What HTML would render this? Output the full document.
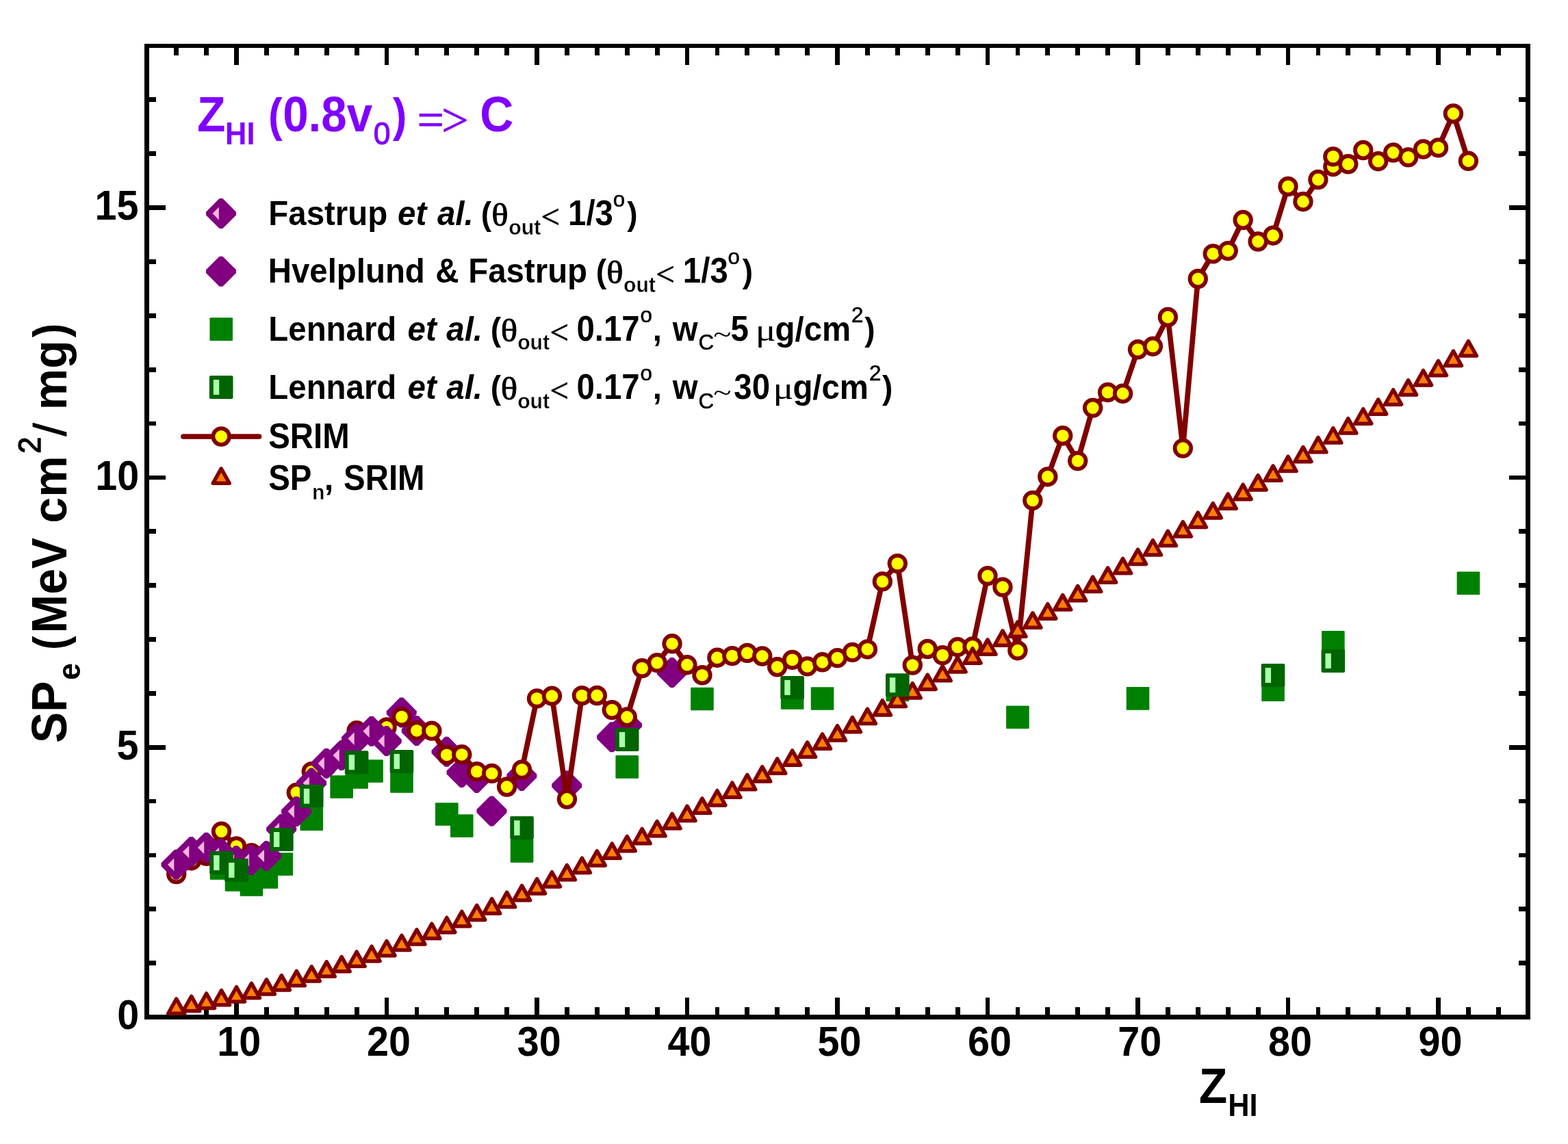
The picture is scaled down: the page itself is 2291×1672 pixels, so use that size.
<!DOCTYPE html>
<html><head><meta charset="utf-8"><title>SPe vs ZHI</title>
<style>html,body{margin:0;padding:0;background:#fff}svg{display:block}text{white-space:pre}</style></head>
<body><svg width="2291" height="1672" viewBox="0 0 2291 1672">
<rect width="2291" height="1672" fill="#fff"/>
<g shape-rendering="crispEdges"><rect x="214.5" y="67.0" width="2018.0" height="1419.5" fill="none" stroke="#000" stroke-width="6.8"/><path d="M257.70 67.0v14M257.70 1486.5v-14.9M301.60 67.0v14M301.60 1486.5v-14.9M345.50 67.0v28M345.50 1486.5v-28.9M389.40 67.0v14M389.40 1486.5v-14.9M433.30 67.0v14M433.30 1486.5v-14.9M477.20 67.0v14M477.20 1486.5v-14.9M521.10 67.0v14M521.10 1486.5v-14.9M565.00 67.0v28M565.00 1486.5v-28.9M608.90 67.0v14M608.90 1486.5v-14.9M652.80 67.0v14M652.80 1486.5v-14.9M696.70 67.0v14M696.70 1486.5v-14.9M740.60 67.0v14M740.60 1486.5v-14.9M784.50 67.0v28M784.50 1486.5v-28.9M828.40 67.0v14M828.40 1486.5v-14.9M872.30 67.0v14M872.30 1486.5v-14.9M916.20 67.0v14M916.20 1486.5v-14.9M960.10 67.0v14M960.10 1486.5v-14.9M1004.00 67.0v28M1004.00 1486.5v-28.9M1047.90 67.0v14M1047.90 1486.5v-14.9M1091.80 67.0v14M1091.80 1486.5v-14.9M1135.70 67.0v14M1135.70 1486.5v-14.9M1179.60 67.0v14M1179.60 1486.5v-14.9M1223.50 67.0v28M1223.50 1486.5v-28.9M1267.40 67.0v14M1267.40 1486.5v-14.9M1311.30 67.0v14M1311.30 1486.5v-14.9M1355.20 67.0v14M1355.20 1486.5v-14.9M1399.10 67.0v14M1399.10 1486.5v-14.9M1443.00 67.0v28M1443.00 1486.5v-28.9M1486.90 67.0v14M1486.90 1486.5v-14.9M1530.80 67.0v14M1530.80 1486.5v-14.9M1574.70 67.0v14M1574.70 1486.5v-14.9M1618.60 67.0v14M1618.60 1486.5v-14.9M1662.50 67.0v28M1662.50 1486.5v-28.9M1706.40 67.0v14M1706.40 1486.5v-14.9M1750.30 67.0v14M1750.30 1486.5v-14.9M1794.20 67.0v14M1794.20 1486.5v-14.9M1838.10 67.0v14M1838.10 1486.5v-14.9M1882.00 67.0v28M1882.00 1486.5v-28.9M1925.90 67.0v14M1925.90 1486.5v-14.9M1969.80 67.0v14M1969.80 1486.5v-14.9M2013.70 67.0v14M2013.70 1486.5v-14.9M2057.60 67.0v14M2057.60 1486.5v-14.9M2101.50 67.0v28M2101.50 1486.5v-28.9M2145.40 67.0v14M2145.40 1486.5v-14.9M2189.30 67.0v14M2189.30 1486.5v-14.9M214.5 1407.64h13.5M2232.5 1407.64h-13.5M214.5 1328.78h13.5M2232.5 1328.78h-13.5M214.5 1249.92h13.5M2232.5 1249.92h-13.5M214.5 1171.06h13.5M2232.5 1171.06h-13.5M214.5 1092.20h27.5M2232.5 1092.20h-27.5M214.5 1013.34h13.5M2232.5 1013.34h-13.5M214.5 934.48h13.5M2232.5 934.48h-13.5M214.5 855.62h13.5M2232.5 855.62h-13.5M214.5 776.76h13.5M2232.5 776.76h-13.5M214.5 697.90h27.5M2232.5 697.90h-27.5M214.5 619.04h13.5M2232.5 619.04h-13.5M214.5 540.18h13.5M2232.5 540.18h-13.5M214.5 461.32h13.5M2232.5 461.32h-13.5M214.5 382.46h13.5M2232.5 382.46h-13.5M214.5 303.60h27.5M2232.5 303.60h-27.5M214.5 224.74h13.5M2232.5 224.74h-13.5M214.5 145.88h13.5M2232.5 145.88h-13.5" stroke="#000" stroke-width="6.8" fill="none"/></g>
<g><polygon points="584.35,1019.60 589.15,1019.60 608.75,1039.20 608.75,1044.00 589.15,1063.60 584.35,1063.60 564.75,1044.00 564.75,1039.20" fill="#800080"/><polygon points="606.30,1046.00 611.10,1046.00 630.70,1065.60 630.70,1070.40 611.10,1090.00 606.30,1090.00 586.70,1070.40 586.70,1065.60" fill="#800080"/><polygon points="650.20,1076.80 655.00,1076.80 674.60,1096.40 674.60,1101.20 655.00,1120.80 650.20,1120.80 630.60,1101.20 630.60,1096.40" fill="#800080"/><polygon points="672.15,1107.00 676.95,1107.00 696.55,1126.60 696.55,1131.40 676.95,1151.00 672.15,1151.00 652.55,1131.40 652.55,1126.60" fill="#800080"/><polygon points="694.10,1114.90 698.90,1114.90 718.50,1134.50 718.50,1139.30 698.90,1158.90 694.10,1158.90 674.50,1139.30 674.50,1134.50" fill="#800080"/><polygon points="716.05,1163.40 720.85,1163.40 740.45,1183.00 740.45,1187.80 720.85,1207.40 716.05,1207.40 696.45,1187.80 696.45,1183.00" fill="#800080"/><polygon points="759.95,1112.00 764.75,1112.00 784.35,1131.60 784.35,1136.40 764.75,1156.00 759.95,1156.00 740.35,1136.40 740.35,1131.60" fill="#800080"/><polygon points="825.80,1126.20 830.60,1126.20 850.20,1145.80 850.20,1150.60 830.60,1170.20 825.80,1170.20 806.20,1150.60 806.20,1145.80" fill="#800080"/><polygon points="891.65,1055.30 896.45,1055.30 916.05,1074.90 916.05,1079.70 896.45,1099.30 891.65,1099.30 872.05,1079.70 872.05,1074.90" fill="#800080"/><polygon points="913.60,1037.80 918.40,1037.80 938.00,1057.40 938.00,1062.20 918.40,1081.80 913.60,1081.80 894.00,1062.20 894.00,1057.40" fill="#800080"/><polygon points="979.45,961.10 984.25,961.10 1003.85,980.70 1003.85,985.50 984.25,1005.10 979.45,1005.10 959.85,985.50 959.85,980.70" fill="#800080"/><polyline points="257.70,1277.50 279.65,1257.70 301.60,1251.00 323.55,1215.10 345.50,1236.90 367.45,1246.70 389.40,1251.00 411.35,1211.80 433.30,1158.40 455.25,1127.60 477.20,1120.00 499.15,1104.00 521.10,1067.80 543.05,1068.80 565.00,1063.00 586.95,1047.60 608.90,1067.80 630.85,1068.10 652.80,1103.30 674.75,1102.80 696.70,1127.60 718.65,1130.40 740.60,1150.00 762.55,1124.90 784.50,1020.90 806.45,1017.20 828.40,1168.00 850.35,1016.60 872.30,1016.50 894.25,1037.60 916.20,1048.00 938.15,976.60 960.10,968.60 982.05,940.80 1004.00,971.70 1025.95,986.80 1047.90,961.20 1069.85,958.60 1091.80,954.40 1113.75,959.00 1135.70,974.80 1157.65,964.40 1179.60,973.90 1201.55,967.80 1223.50,961.60 1245.45,953.40 1267.40,948.90 1289.35,849.90 1311.30,823.60 1333.25,972.10 1355.20,948.50 1377.15,957.60 1399.10,945.60 1421.05,944.90 1443.00,841.70 1464.95,858.10 1486.90,950.70 1508.85,731.40 1530.80,696.70 1552.75,636.80 1574.70,673.60 1596.65,596.10 1618.60,573.40 1640.55,575.20 1662.50,510.80 1684.45,506.20 1706.40,463.50 1728.35,655.10 1750.30,407.50 1772.25,370.90 1794.20,366.60 1816.15,321.50 1838.10,353.00 1860.05,344.20 1882.00,272.50 1903.95,294.70 1925.90,262.50 1947.85,243.50 1947.85,228.90 1969.80,239.80 1991.75,219.50 2013.70,235.70 2035.65,223.00 2057.60,229.90 2079.55,218.00 2101.50,215.90 2123.45,166.00 2145.40,235.30" fill="none" stroke="#800000" stroke-width="7.7" stroke-linejoin="round" stroke-linecap="round"/><circle cx="257.70" cy="1277.50" r="11.8" fill="#ffff00" stroke="#800000" stroke-width="5.8"/><circle cx="279.65" cy="1257.70" r="11.8" fill="#ffff00" stroke="#800000" stroke-width="5.8"/><circle cx="301.60" cy="1251.00" r="11.8" fill="#ffff00" stroke="#800000" stroke-width="5.8"/><circle cx="323.55" cy="1215.10" r="11.8" fill="#ffff00" stroke="#800000" stroke-width="5.8"/><circle cx="345.50" cy="1236.90" r="11.8" fill="#ffff00" stroke="#800000" stroke-width="5.8"/><circle cx="367.45" cy="1246.70" r="11.8" fill="#ffff00" stroke="#800000" stroke-width="5.8"/><circle cx="389.40" cy="1251.00" r="11.8" fill="#ffff00" stroke="#800000" stroke-width="5.8"/><circle cx="411.35" cy="1211.80" r="11.8" fill="#ffff00" stroke="#800000" stroke-width="5.8"/><circle cx="433.30" cy="1158.40" r="11.8" fill="#ffff00" stroke="#800000" stroke-width="5.8"/><circle cx="455.25" cy="1127.60" r="11.8" fill="#ffff00" stroke="#800000" stroke-width="5.8"/><circle cx="477.20" cy="1120.00" r="11.8" fill="#ffff00" stroke="#800000" stroke-width="5.8"/><circle cx="499.15" cy="1104.00" r="11.8" fill="#ffff00" stroke="#800000" stroke-width="5.8"/><circle cx="521.10" cy="1067.80" r="11.8" fill="#ffff00" stroke="#800000" stroke-width="5.8"/><circle cx="543.05" cy="1068.80" r="11.8" fill="#ffff00" stroke="#800000" stroke-width="5.8"/><circle cx="565.00" cy="1063.00" r="11.8" fill="#ffff00" stroke="#800000" stroke-width="5.8"/><circle cx="586.95" cy="1047.60" r="11.8" fill="#ffff00" stroke="#800000" stroke-width="5.8"/><circle cx="608.90" cy="1067.80" r="11.8" fill="#ffff00" stroke="#800000" stroke-width="5.8"/><circle cx="630.85" cy="1068.10" r="11.8" fill="#ffff00" stroke="#800000" stroke-width="5.8"/><circle cx="652.80" cy="1103.30" r="11.8" fill="#ffff00" stroke="#800000" stroke-width="5.8"/><circle cx="674.75" cy="1102.80" r="11.8" fill="#ffff00" stroke="#800000" stroke-width="5.8"/><circle cx="696.70" cy="1127.60" r="11.8" fill="#ffff00" stroke="#800000" stroke-width="5.8"/><circle cx="718.65" cy="1130.40" r="11.8" fill="#ffff00" stroke="#800000" stroke-width="5.8"/><circle cx="740.60" cy="1150.00" r="11.8" fill="#ffff00" stroke="#800000" stroke-width="5.8"/><circle cx="762.55" cy="1124.90" r="11.8" fill="#ffff00" stroke="#800000" stroke-width="5.8"/><circle cx="784.50" cy="1020.90" r="11.8" fill="#ffff00" stroke="#800000" stroke-width="5.8"/><circle cx="806.45" cy="1017.20" r="11.8" fill="#ffff00" stroke="#800000" stroke-width="5.8"/><circle cx="828.40" cy="1168.00" r="11.8" fill="#ffff00" stroke="#800000" stroke-width="5.8"/><circle cx="850.35" cy="1016.60" r="11.8" fill="#ffff00" stroke="#800000" stroke-width="5.8"/><circle cx="872.30" cy="1016.50" r="11.8" fill="#ffff00" stroke="#800000" stroke-width="5.8"/><circle cx="894.25" cy="1037.60" r="11.8" fill="#ffff00" stroke="#800000" stroke-width="5.8"/><circle cx="916.20" cy="1048.00" r="11.8" fill="#ffff00" stroke="#800000" stroke-width="5.8"/><circle cx="938.15" cy="976.60" r="11.8" fill="#ffff00" stroke="#800000" stroke-width="5.8"/><circle cx="960.10" cy="968.60" r="11.8" fill="#ffff00" stroke="#800000" stroke-width="5.8"/><circle cx="982.05" cy="940.80" r="11.8" fill="#ffff00" stroke="#800000" stroke-width="5.8"/><circle cx="1004.00" cy="971.70" r="11.8" fill="#ffff00" stroke="#800000" stroke-width="5.8"/><circle cx="1025.95" cy="986.80" r="11.8" fill="#ffff00" stroke="#800000" stroke-width="5.8"/><circle cx="1047.90" cy="961.20" r="11.8" fill="#ffff00" stroke="#800000" stroke-width="5.8"/><circle cx="1069.85" cy="958.60" r="11.8" fill="#ffff00" stroke="#800000" stroke-width="5.8"/><circle cx="1091.80" cy="954.40" r="11.8" fill="#ffff00" stroke="#800000" stroke-width="5.8"/><circle cx="1113.75" cy="959.00" r="11.8" fill="#ffff00" stroke="#800000" stroke-width="5.8"/><circle cx="1135.70" cy="974.80" r="11.8" fill="#ffff00" stroke="#800000" stroke-width="5.8"/><circle cx="1157.65" cy="964.40" r="11.8" fill="#ffff00" stroke="#800000" stroke-width="5.8"/><circle cx="1179.60" cy="973.90" r="11.8" fill="#ffff00" stroke="#800000" stroke-width="5.8"/><circle cx="1201.55" cy="967.80" r="11.8" fill="#ffff00" stroke="#800000" stroke-width="5.8"/><circle cx="1223.50" cy="961.60" r="11.8" fill="#ffff00" stroke="#800000" stroke-width="5.8"/><circle cx="1245.45" cy="953.40" r="11.8" fill="#ffff00" stroke="#800000" stroke-width="5.8"/><circle cx="1267.40" cy="948.90" r="11.8" fill="#ffff00" stroke="#800000" stroke-width="5.8"/><circle cx="1289.35" cy="849.90" r="11.8" fill="#ffff00" stroke="#800000" stroke-width="5.8"/><circle cx="1311.30" cy="823.60" r="11.8" fill="#ffff00" stroke="#800000" stroke-width="5.8"/><circle cx="1333.25" cy="972.10" r="11.8" fill="#ffff00" stroke="#800000" stroke-width="5.8"/><circle cx="1355.20" cy="948.50" r="11.8" fill="#ffff00" stroke="#800000" stroke-width="5.8"/><circle cx="1377.15" cy="957.60" r="11.8" fill="#ffff00" stroke="#800000" stroke-width="5.8"/><circle cx="1399.10" cy="945.60" r="11.8" fill="#ffff00" stroke="#800000" stroke-width="5.8"/><circle cx="1421.05" cy="944.90" r="11.8" fill="#ffff00" stroke="#800000" stroke-width="5.8"/><circle cx="1443.00" cy="841.70" r="11.8" fill="#ffff00" stroke="#800000" stroke-width="5.8"/><circle cx="1464.95" cy="858.10" r="11.8" fill="#ffff00" stroke="#800000" stroke-width="5.8"/><circle cx="1486.90" cy="950.70" r="11.8" fill="#ffff00" stroke="#800000" stroke-width="5.8"/><circle cx="1508.85" cy="731.40" r="11.8" fill="#ffff00" stroke="#800000" stroke-width="5.8"/><circle cx="1530.80" cy="696.70" r="11.8" fill="#ffff00" stroke="#800000" stroke-width="5.8"/><circle cx="1552.75" cy="636.80" r="11.8" fill="#ffff00" stroke="#800000" stroke-width="5.8"/><circle cx="1574.70" cy="673.60" r="11.8" fill="#ffff00" stroke="#800000" stroke-width="5.8"/><circle cx="1596.65" cy="596.10" r="11.8" fill="#ffff00" stroke="#800000" stroke-width="5.8"/><circle cx="1618.60" cy="573.40" r="11.8" fill="#ffff00" stroke="#800000" stroke-width="5.8"/><circle cx="1640.55" cy="575.20" r="11.8" fill="#ffff00" stroke="#800000" stroke-width="5.8"/><circle cx="1662.50" cy="510.80" r="11.8" fill="#ffff00" stroke="#800000" stroke-width="5.8"/><circle cx="1684.45" cy="506.20" r="11.8" fill="#ffff00" stroke="#800000" stroke-width="5.8"/><circle cx="1706.40" cy="463.50" r="11.8" fill="#ffff00" stroke="#800000" stroke-width="5.8"/><circle cx="1728.35" cy="655.10" r="11.8" fill="#ffff00" stroke="#800000" stroke-width="5.8"/><circle cx="1750.30" cy="407.50" r="11.8" fill="#ffff00" stroke="#800000" stroke-width="5.8"/><circle cx="1772.25" cy="370.90" r="11.8" fill="#ffff00" stroke="#800000" stroke-width="5.8"/><circle cx="1794.20" cy="366.60" r="11.8" fill="#ffff00" stroke="#800000" stroke-width="5.8"/><circle cx="1816.15" cy="321.50" r="11.8" fill="#ffff00" stroke="#800000" stroke-width="5.8"/><circle cx="1838.10" cy="353.00" r="11.8" fill="#ffff00" stroke="#800000" stroke-width="5.8"/><circle cx="1860.05" cy="344.20" r="11.8" fill="#ffff00" stroke="#800000" stroke-width="5.8"/><circle cx="1882.00" cy="272.50" r="11.8" fill="#ffff00" stroke="#800000" stroke-width="5.8"/><circle cx="1903.95" cy="294.70" r="11.8" fill="#ffff00" stroke="#800000" stroke-width="5.8"/><circle cx="1925.90" cy="262.50" r="11.8" fill="#ffff00" stroke="#800000" stroke-width="5.8"/><circle cx="1947.85" cy="243.50" r="11.8" fill="#ffff00" stroke="#800000" stroke-width="5.8"/><circle cx="1947.85" cy="228.90" r="11.8" fill="#ffff00" stroke="#800000" stroke-width="5.8"/><circle cx="1969.80" cy="239.80" r="11.8" fill="#ffff00" stroke="#800000" stroke-width="5.8"/><circle cx="1991.75" cy="219.50" r="11.8" fill="#ffff00" stroke="#800000" stroke-width="5.8"/><circle cx="2013.70" cy="235.70" r="11.8" fill="#ffff00" stroke="#800000" stroke-width="5.8"/><circle cx="2035.65" cy="223.00" r="11.8" fill="#ffff00" stroke="#800000" stroke-width="5.8"/><circle cx="2057.60" cy="229.90" r="11.8" fill="#ffff00" stroke="#800000" stroke-width="5.8"/><circle cx="2079.55" cy="218.00" r="11.8" fill="#ffff00" stroke="#800000" stroke-width="5.8"/><circle cx="2101.50" cy="215.90" r="11.8" fill="#ffff00" stroke="#800000" stroke-width="5.8"/><circle cx="2123.45" cy="166.00" r="11.8" fill="#ffff00" stroke="#800000" stroke-width="5.8"/><circle cx="2145.40" cy="235.30" r="11.8" fill="#ffff00" stroke="#800000" stroke-width="5.8"/><rect x="306.75" y="1252.20" width="33.6" height="33.6" rx="1" fill="#008000"/><rect x="328.70" y="1269.20" width="33.6" height="33.6" rx="1" fill="#008000"/><rect x="350.65" y="1276.20" width="33.6" height="33.6" rx="1" fill="#008000"/><rect x="372.60" y="1265.20" width="33.6" height="33.6" rx="1" fill="#008000"/><rect x="394.55" y="1246.20" width="33.6" height="33.6" rx="1" fill="#008000"/><rect x="438.45" y="1180.30" width="33.6" height="33.6" rx="1" fill="#008000"/><rect x="482.35" y="1133.20" width="33.6" height="33.6" rx="1" fill="#008000"/><rect x="504.30" y="1119.20" width="33.6" height="33.6" rx="1" fill="#008000"/><rect x="526.25" y="1110.20" width="33.6" height="33.6" rx="1" fill="#008000"/><rect x="570.15" y="1125.20" width="33.6" height="33.6" rx="1" fill="#008000"/><rect x="636.00" y="1173.20" width="33.6" height="33.6" rx="1" fill="#008000"/><rect x="657.95" y="1190.20" width="33.6" height="33.6" rx="1" fill="#008000"/><rect x="745.75" y="1227.10" width="33.6" height="33.6" rx="1" fill="#008000"/><rect x="899.40" y="1104.10" width="33.6" height="33.6" rx="1" fill="#008000"/><rect x="1009.15" y="1004.70" width="33.6" height="33.6" rx="1" fill="#008000"/><rect x="1140.85" y="1003.20" width="33.6" height="33.6" rx="1" fill="#008000"/><rect x="1184.75" y="1004.20" width="33.6" height="33.6" rx="1" fill="#008000"/><rect x="1294.50" y="991.60" width="33.6" height="33.6" rx="1" fill="#008000"/><rect x="1470.10" y="1031.40" width="33.6" height="33.6" rx="1" fill="#008000"/><rect x="1645.70" y="1004.10" width="33.6" height="33.6" rx="1" fill="#008000"/><rect x="1843.25" y="991.30" width="33.6" height="33.6" rx="1" fill="#008000"/><rect x="1931.05" y="922.10" width="33.6" height="33.6" rx="1" fill="#008000"/><rect x="2128.60" y="835.60" width="33.6" height="33.6" rx="1" fill="#008000"/><path d="M257.70 1459.82l12.0 21.4h-24.0z" fill="#ff8000" stroke="#800000" stroke-width="5.5" stroke-linejoin="round"/><path d="M279.65 1456.12l12.0 21.4h-24.0z" fill="#ff8000" stroke="#800000" stroke-width="5.5" stroke-linejoin="round"/><path d="M301.60 1451.99l12.0 21.4h-24.0z" fill="#ff8000" stroke="#800000" stroke-width="5.5" stroke-linejoin="round"/><path d="M323.55 1447.44l12.0 21.4h-24.0z" fill="#ff8000" stroke="#800000" stroke-width="5.5" stroke-linejoin="round"/><path d="M345.50 1442.50l12.0 21.4h-24.0z" fill="#ff8000" stroke="#800000" stroke-width="5.5" stroke-linejoin="round"/><path d="M367.45 1437.19l12.0 21.4h-24.0z" fill="#ff8000" stroke="#800000" stroke-width="5.5" stroke-linejoin="round"/><path d="M389.40 1431.53l12.0 21.4h-24.0z" fill="#ff8000" stroke="#800000" stroke-width="5.5" stroke-linejoin="round"/><path d="M411.35 1425.52l12.0 21.4h-24.0z" fill="#ff8000" stroke="#800000" stroke-width="5.5" stroke-linejoin="round"/><path d="M433.30 1419.19l12.0 21.4h-24.0z" fill="#ff8000" stroke="#800000" stroke-width="5.5" stroke-linejoin="round"/><path d="M455.25 1412.56l12.0 21.4h-24.0z" fill="#ff8000" stroke="#800000" stroke-width="5.5" stroke-linejoin="round"/><path d="M477.20 1405.64l12.0 21.4h-24.0z" fill="#ff8000" stroke="#800000" stroke-width="5.5" stroke-linejoin="round"/><path d="M499.15 1398.44l12.0 21.4h-24.0z" fill="#ff8000" stroke="#800000" stroke-width="5.5" stroke-linejoin="round"/><path d="M521.10 1390.97l12.0 21.4h-24.0z" fill="#ff8000" stroke="#800000" stroke-width="5.5" stroke-linejoin="round"/><path d="M543.05 1383.25l12.0 21.4h-24.0z" fill="#ff8000" stroke="#800000" stroke-width="5.5" stroke-linejoin="round"/><path d="M565.00 1375.29l12.0 21.4h-24.0z" fill="#ff8000" stroke="#800000" stroke-width="5.5" stroke-linejoin="round"/><path d="M586.95 1367.10l12.0 21.4h-24.0z" fill="#ff8000" stroke="#800000" stroke-width="5.5" stroke-linejoin="round"/><path d="M608.90 1358.69l12.0 21.4h-24.0z" fill="#ff8000" stroke="#800000" stroke-width="5.5" stroke-linejoin="round"/><path d="M630.85 1350.08l12.0 21.4h-24.0z" fill="#ff8000" stroke="#800000" stroke-width="5.5" stroke-linejoin="round"/><path d="M652.80 1341.25l12.0 21.4h-24.0z" fill="#ff8000" stroke="#800000" stroke-width="5.5" stroke-linejoin="round"/><path d="M674.75 1332.24l12.0 21.4h-24.0z" fill="#ff8000" stroke="#800000" stroke-width="5.5" stroke-linejoin="round"/><path d="M696.70 1323.04l12.0 21.4h-24.0z" fill="#ff8000" stroke="#800000" stroke-width="5.5" stroke-linejoin="round"/><path d="M718.65 1313.66l12.0 21.4h-24.0z" fill="#ff8000" stroke="#800000" stroke-width="5.5" stroke-linejoin="round"/><path d="M740.60 1304.11l12.0 21.4h-24.0z" fill="#ff8000" stroke="#800000" stroke-width="5.5" stroke-linejoin="round"/><path d="M762.55 1294.40l12.0 21.4h-24.0z" fill="#ff8000" stroke="#800000" stroke-width="5.5" stroke-linejoin="round"/><path d="M784.50 1284.52l12.0 21.4h-24.0z" fill="#ff8000" stroke="#800000" stroke-width="5.5" stroke-linejoin="round"/><path d="M806.45 1274.50l12.0 21.4h-24.0z" fill="#ff8000" stroke="#800000" stroke-width="5.5" stroke-linejoin="round"/><path d="M828.40 1264.33l12.0 21.4h-24.0z" fill="#ff8000" stroke="#800000" stroke-width="5.5" stroke-linejoin="round"/><path d="M850.35 1254.01l12.0 21.4h-24.0z" fill="#ff8000" stroke="#800000" stroke-width="5.5" stroke-linejoin="round"/><path d="M872.30 1243.56l12.0 21.4h-24.0z" fill="#ff8000" stroke="#800000" stroke-width="5.5" stroke-linejoin="round"/><path d="M894.25 1232.97l12.0 21.4h-24.0z" fill="#ff8000" stroke="#800000" stroke-width="5.5" stroke-linejoin="round"/><path d="M916.20 1222.26l12.0 21.4h-24.0z" fill="#ff8000" stroke="#800000" stroke-width="5.5" stroke-linejoin="round"/><path d="M938.15 1211.42l12.0 21.4h-24.0z" fill="#ff8000" stroke="#800000" stroke-width="5.5" stroke-linejoin="round"/><path d="M960.10 1200.46l12.0 21.4h-24.0z" fill="#ff8000" stroke="#800000" stroke-width="5.5" stroke-linejoin="round"/><path d="M982.05 1189.38l12.0 21.4h-24.0z" fill="#ff8000" stroke="#800000" stroke-width="5.5" stroke-linejoin="round"/><path d="M1004.00 1178.19l12.0 21.4h-24.0z" fill="#ff8000" stroke="#800000" stroke-width="5.5" stroke-linejoin="round"/><path d="M1025.95 1166.89l12.0 21.4h-24.0z" fill="#ff8000" stroke="#800000" stroke-width="5.5" stroke-linejoin="round"/><path d="M1047.90 1155.48l12.0 21.4h-24.0z" fill="#ff8000" stroke="#800000" stroke-width="5.5" stroke-linejoin="round"/><path d="M1069.85 1143.97l12.0 21.4h-24.0z" fill="#ff8000" stroke="#800000" stroke-width="5.5" stroke-linejoin="round"/><path d="M1091.80 1132.35l12.0 21.4h-24.0z" fill="#ff8000" stroke="#800000" stroke-width="5.5" stroke-linejoin="round"/><path d="M1113.75 1120.64l12.0 21.4h-24.0z" fill="#ff8000" stroke="#800000" stroke-width="5.5" stroke-linejoin="round"/><path d="M1135.70 1108.83l12.0 21.4h-24.0z" fill="#ff8000" stroke="#800000" stroke-width="5.5" stroke-linejoin="round"/><path d="M1157.65 1096.93l12.0 21.4h-24.0z" fill="#ff8000" stroke="#800000" stroke-width="5.5" stroke-linejoin="round"/><path d="M1179.60 1084.94l12.0 21.4h-24.0z" fill="#ff8000" stroke="#800000" stroke-width="5.5" stroke-linejoin="round"/><path d="M1201.55 1072.85l12.0 21.4h-24.0z" fill="#ff8000" stroke="#800000" stroke-width="5.5" stroke-linejoin="round"/><path d="M1223.50 1060.69l12.0 21.4h-24.0z" fill="#ff8000" stroke="#800000" stroke-width="5.5" stroke-linejoin="round"/><path d="M1245.45 1048.44l12.0 21.4h-24.0z" fill="#ff8000" stroke="#800000" stroke-width="5.5" stroke-linejoin="round"/><path d="M1267.40 1036.11l12.0 21.4h-24.0z" fill="#ff8000" stroke="#800000" stroke-width="5.5" stroke-linejoin="round"/><path d="M1289.35 1023.70l12.0 21.4h-24.0z" fill="#ff8000" stroke="#800000" stroke-width="5.5" stroke-linejoin="round"/><path d="M1311.30 1011.22l12.0 21.4h-24.0z" fill="#ff8000" stroke="#800000" stroke-width="5.5" stroke-linejoin="round"/><path d="M1333.25 998.66l12.0 21.4h-24.0z" fill="#ff8000" stroke="#800000" stroke-width="5.5" stroke-linejoin="round"/><path d="M1355.20 986.03l12.0 21.4h-24.0z" fill="#ff8000" stroke="#800000" stroke-width="5.5" stroke-linejoin="round"/><path d="M1377.15 973.34l12.0 21.4h-24.0z" fill="#ff8000" stroke="#800000" stroke-width="5.5" stroke-linejoin="round"/><path d="M1399.10 960.57l12.0 21.4h-24.0z" fill="#ff8000" stroke="#800000" stroke-width="5.5" stroke-linejoin="round"/><path d="M1421.05 947.75l12.0 21.4h-24.0z" fill="#ff8000" stroke="#800000" stroke-width="5.5" stroke-linejoin="round"/><path d="M1443.00 934.86l12.0 21.4h-24.0z" fill="#ff8000" stroke="#800000" stroke-width="5.5" stroke-linejoin="round"/><path d="M1464.95 921.91l12.0 21.4h-24.0z" fill="#ff8000" stroke="#800000" stroke-width="5.5" stroke-linejoin="round"/><path d="M1486.90 908.90l12.0 21.4h-24.0z" fill="#ff8000" stroke="#800000" stroke-width="5.5" stroke-linejoin="round"/><path d="M1508.85 895.84l12.0 21.4h-24.0z" fill="#ff8000" stroke="#800000" stroke-width="5.5" stroke-linejoin="round"/><path d="M1530.80 882.73l12.0 21.4h-24.0z" fill="#ff8000" stroke="#800000" stroke-width="5.5" stroke-linejoin="round"/><path d="M1552.75 869.57l12.0 21.4h-24.0z" fill="#ff8000" stroke="#800000" stroke-width="5.5" stroke-linejoin="round"/><path d="M1574.70 856.35l12.0 21.4h-24.0z" fill="#ff8000" stroke="#800000" stroke-width="5.5" stroke-linejoin="round"/><path d="M1596.65 843.09l12.0 21.4h-24.0z" fill="#ff8000" stroke="#800000" stroke-width="5.5" stroke-linejoin="round"/><path d="M1618.60 829.78l12.0 21.4h-24.0z" fill="#ff8000" stroke="#800000" stroke-width="5.5" stroke-linejoin="round"/><path d="M1640.55 816.43l12.0 21.4h-24.0z" fill="#ff8000" stroke="#800000" stroke-width="5.5" stroke-linejoin="round"/><path d="M1662.50 803.04l12.0 21.4h-24.0z" fill="#ff8000" stroke="#800000" stroke-width="5.5" stroke-linejoin="round"/><path d="M1684.45 789.61l12.0 21.4h-24.0z" fill="#ff8000" stroke="#800000" stroke-width="5.5" stroke-linejoin="round"/><path d="M1706.40 776.14l12.0 21.4h-24.0z" fill="#ff8000" stroke="#800000" stroke-width="5.5" stroke-linejoin="round"/><path d="M1728.35 762.63l12.0 21.4h-24.0z" fill="#ff8000" stroke="#800000" stroke-width="5.5" stroke-linejoin="round"/><path d="M1750.30 749.09l12.0 21.4h-24.0z" fill="#ff8000" stroke="#800000" stroke-width="5.5" stroke-linejoin="round"/><path d="M1772.25 735.51l12.0 21.4h-24.0z" fill="#ff8000" stroke="#800000" stroke-width="5.5" stroke-linejoin="round"/><path d="M1794.20 721.89l12.0 21.4h-24.0z" fill="#ff8000" stroke="#800000" stroke-width="5.5" stroke-linejoin="round"/><path d="M1816.15 708.24l12.0 21.4h-24.0z" fill="#ff8000" stroke="#800000" stroke-width="5.5" stroke-linejoin="round"/><path d="M1838.10 694.55l12.0 21.4h-24.0z" fill="#ff8000" stroke="#800000" stroke-width="5.5" stroke-linejoin="round"/><path d="M1860.05 680.83l12.0 21.4h-24.0z" fill="#ff8000" stroke="#800000" stroke-width="5.5" stroke-linejoin="round"/><path d="M1882.00 667.08l12.0 21.4h-24.0z" fill="#ff8000" stroke="#800000" stroke-width="5.5" stroke-linejoin="round"/><path d="M1903.95 653.29l12.0 21.4h-24.0z" fill="#ff8000" stroke="#800000" stroke-width="5.5" stroke-linejoin="round"/><path d="M1925.90 639.47l12.0 21.4h-24.0z" fill="#ff8000" stroke="#800000" stroke-width="5.5" stroke-linejoin="round"/><path d="M1947.85 625.60l12.0 21.4h-24.0z" fill="#ff8000" stroke="#800000" stroke-width="5.5" stroke-linejoin="round"/><path d="M1969.80 611.70l12.0 21.4h-24.0z" fill="#ff8000" stroke="#800000" stroke-width="5.5" stroke-linejoin="round"/><path d="M1991.75 597.75l12.0 21.4h-24.0z" fill="#ff8000" stroke="#800000" stroke-width="5.5" stroke-linejoin="round"/><path d="M2013.70 583.76l12.0 21.4h-24.0z" fill="#ff8000" stroke="#800000" stroke-width="5.5" stroke-linejoin="round"/><path d="M2035.65 569.73l12.0 21.4h-24.0z" fill="#ff8000" stroke="#800000" stroke-width="5.5" stroke-linejoin="round"/><path d="M2057.60 555.64l12.0 21.4h-24.0z" fill="#ff8000" stroke="#800000" stroke-width="5.5" stroke-linejoin="round"/><path d="M2079.55 541.49l12.0 21.4h-24.0z" fill="#ff8000" stroke="#800000" stroke-width="5.5" stroke-linejoin="round"/><path d="M2101.50 527.29l12.0 21.4h-24.0z" fill="#ff8000" stroke="#800000" stroke-width="5.5" stroke-linejoin="round"/><path d="M2123.45 513.02l12.0 21.4h-24.0z" fill="#ff8000" stroke="#800000" stroke-width="5.5" stroke-linejoin="round"/><path d="M2145.40 498.68l12.0 21.4h-24.0z" fill="#ff8000" stroke="#800000" stroke-width="5.5" stroke-linejoin="round"/><polygon points="255.10,1241.70 259.90,1241.70 279.50,1261.30 279.50,1266.10 259.90,1285.70 255.10,1285.70 235.50,1266.10 235.50,1261.30" fill="#800080"/><path d="M245.00 1263.70l9.3 -9.3v18.6z" fill="#ffb3dc"/><polygon points="277.05,1223.00 281.85,1223.00 301.45,1242.60 301.45,1247.40 281.85,1267.00 277.05,1267.00 257.45,1247.40 257.45,1242.60" fill="#800080"/><path d="M266.95 1245.00l9.3 -9.3v18.6z" fill="#ffb3dc"/><polygon points="299.00,1216.70 303.80,1216.70 323.40,1236.30 323.40,1241.10 303.80,1260.70 299.00,1260.70 279.40,1241.10 279.40,1236.30" fill="#800080"/><path d="M288.90 1238.70l9.3 -9.3v18.6z" fill="#ffb3dc"/><polygon points="320.95,1225.80 325.75,1225.80 345.35,1245.40 345.35,1250.20 325.75,1269.80 320.95,1269.80 301.35,1250.20 301.35,1245.40" fill="#800080"/><path d="M310.85 1247.80l9.3 -9.3v18.6z" fill="#ffb3dc"/><polygon points="342.90,1236.00 347.70,1236.00 367.30,1255.60 367.30,1260.40 347.70,1280.00 342.90,1280.00 323.30,1260.40 323.30,1255.60" fill="#800080"/><path d="M332.80 1258.00l9.3 -9.3v18.6z" fill="#ffb3dc"/><polygon points="364.85,1235.00 369.65,1235.00 389.25,1254.60 389.25,1259.40 369.65,1279.00 364.85,1279.00 345.25,1259.40 345.25,1254.60" fill="#800080"/><path d="M354.75 1257.00l9.3 -9.3v18.6z" fill="#ffb3dc"/><polygon points="386.80,1229.00 391.60,1229.00 411.20,1248.60 411.20,1253.40 391.60,1273.00 386.80,1273.00 367.20,1253.40 367.20,1248.60" fill="#800080"/><path d="M376.70 1251.00l9.3 -9.3v18.6z" fill="#ffb3dc"/><polygon points="408.75,1189.80 413.55,1189.80 433.15,1209.40 433.15,1214.20 413.55,1233.80 408.75,1233.80 389.15,1214.20 389.15,1209.40" fill="#800080"/><path d="M398.65 1211.80l9.3 -9.3v18.6z" fill="#ffb3dc"/><polygon points="430.70,1163.90 435.50,1163.90 455.10,1183.50 455.10,1188.30 435.50,1207.90 430.70,1207.90 411.10,1188.30 411.10,1183.50" fill="#800080"/><path d="M420.60 1185.90l9.3 -9.3v18.6z" fill="#ffb3dc"/><polygon points="452.65,1122.50 457.45,1122.50 477.05,1142.10 477.05,1146.90 457.45,1166.50 452.65,1166.50 433.05,1146.90 433.05,1142.10" fill="#800080"/><path d="M442.55 1144.50l9.3 -9.3v18.6z" fill="#ffb3dc"/><polygon points="474.60,1093.80 479.40,1093.80 499.00,1113.40 499.00,1118.20 479.40,1137.80 474.60,1137.80 455.00,1118.20 455.00,1113.40" fill="#800080"/><path d="M464.50 1115.80l9.3 -9.3v18.6z" fill="#ffb3dc"/><polygon points="496.55,1082.00 501.35,1082.00 520.95,1101.60 520.95,1106.40 501.35,1126.00 496.55,1126.00 476.95,1106.40 476.95,1101.60" fill="#800080"/><path d="M486.45 1104.00l9.3 -9.3v18.6z" fill="#ffb3dc"/><polygon points="518.50,1057.60 523.30,1057.60 542.90,1077.20 542.90,1082.00 523.30,1101.60 518.50,1101.60 498.90,1082.00 498.90,1077.20" fill="#800080"/><path d="M508.40 1079.60l9.3 -9.3v18.6z" fill="#ffb3dc"/><polygon points="540.45,1046.80 545.25,1046.80 564.85,1066.40 564.85,1071.20 545.25,1090.80 540.45,1090.80 520.85,1071.20 520.85,1066.40" fill="#800080"/><path d="M530.35 1068.80l9.3 -9.3v18.6z" fill="#ffb3dc"/><polygon points="562.40,1061.10 567.20,1061.10 586.80,1080.70 586.80,1085.50 567.20,1105.10 562.40,1105.10 542.80,1085.50 542.80,1080.70" fill="#800080"/><path d="M552.30 1083.10l9.3 -9.3v18.6z" fill="#ffb3dc"/><rect x="306.25" y="1243.90" width="34.6" height="34.0" rx="2" fill="#006400"/><rect x="312.15" y="1249.90" width="8.4" height="22" fill="#aaffaa"/><rect x="328.20" y="1254.80" width="34.6" height="34.0" rx="2" fill="#006400"/><rect x="334.10" y="1260.80" width="8.4" height="22" fill="#aaffaa"/><rect x="394.05" y="1210.00" width="34.6" height="34.0" rx="2" fill="#006400"/><rect x="399.95" y="1216.00" width="8.4" height="22" fill="#aaffaa"/><rect x="437.95" y="1146.70" width="34.6" height="34.0" rx="2" fill="#006400"/><rect x="443.85" y="1152.70" width="8.4" height="22" fill="#aaffaa"/><rect x="503.80" y="1097.20" width="34.6" height="34.0" rx="2" fill="#006400"/><rect x="509.70" y="1103.20" width="8.4" height="22" fill="#aaffaa"/><rect x="569.65" y="1095.90" width="34.6" height="34.0" rx="2" fill="#006400"/><rect x="575.55" y="1101.90" width="8.4" height="22" fill="#aaffaa"/><rect x="745.25" y="1193.00" width="34.6" height="34.0" rx="2" fill="#006400"/><rect x="751.15" y="1199.00" width="8.4" height="22" fill="#aaffaa"/><rect x="898.90" y="1064.00" width="34.6" height="34.0" rx="2" fill="#006400"/><rect x="904.80" y="1070.00" width="8.4" height="22" fill="#aaffaa"/><rect x="1140.35" y="987.90" width="34.6" height="34.0" rx="2" fill="#006400"/><rect x="1146.25" y="993.90" width="8.4" height="22" fill="#aaffaa"/><rect x="1294.00" y="984.20" width="34.6" height="34.0" rx="2" fill="#006400"/><rect x="1299.90" y="990.20" width="8.4" height="22" fill="#aaffaa"/><rect x="1842.75" y="970.00" width="34.6" height="34.0" rx="2" fill="#006400"/><rect x="1848.65" y="976.00" width="8.4" height="22" fill="#aaffaa"/><rect x="1930.55" y="949.00" width="34.6" height="34.0" rx="2" fill="#006400"/><rect x="1936.45" y="955.00" width="8.4" height="22" fill="#aaffaa"/><polygon points="320.60,290.10 325.40,290.10 345.00,309.70 345.00,314.50 325.40,334.10 320.60,334.10 301.00,314.50 301.00,309.70" fill="#800080"/><path d="M310.50 312.10l9.3 -9.3v18.6z" fill="#ffb3dc"/><polygon points="320.60,374.70 325.40,374.70 345.00,394.30 345.00,399.10 325.40,418.70 320.60,418.70 301.00,399.10 301.00,394.30" fill="#800080"/><rect x="306.40" y="464.30" width="33.6" height="33.6" rx="1" fill="#008000"/><rect x="305.90" y="549.00" width="34.6" height="34.0" rx="2" fill="#006400"/><rect x="311.80" y="555.00" width="8.4" height="22" fill="#aaffaa"/><path d="M268 638H378.5" stroke="#800000" stroke-width="7.7" stroke-linecap="round"/><circle cx="323.20" cy="638.00" r="11.8" fill="#ffff00" stroke="#800000" stroke-width="5.8"/><path d="M323.20 684.85l12.0 21.4h-24.0z" fill="#ff8000" stroke="#800000" stroke-width="5.5" stroke-linejoin="round"/></g>
<g><text transform="translate(317.18 1543.20) scale(1.0000 1.0470)" font-family='"Liberation Sans", sans-serif' font-weight="bold" font-style="normal" font-size="57.50" fill="#000">10</text><text transform="translate(536.05 1543.20) scale(1.0000 1.0470)" font-family='"Liberation Sans", sans-serif' font-weight="bold" font-style="normal" font-size="57.50" fill="#000">20</text><text transform="translate(755.80 1543.20) scale(1.0000 1.0470)" font-family='"Liberation Sans", sans-serif' font-weight="bold" font-style="normal" font-size="57.50" fill="#000">30</text><text transform="translate(975.55 1543.20) scale(1.0000 1.0470)" font-family='"Liberation Sans", sans-serif' font-weight="bold" font-style="normal" font-size="57.50" fill="#000">40</text><text transform="translate(1194.55 1543.20) scale(1.0000 1.0470)" font-family='"Liberation Sans", sans-serif' font-weight="bold" font-style="normal" font-size="57.50" fill="#000">50</text><text transform="translate(1413.92 1543.20) scale(1.0000 1.0470)" font-family='"Liberation Sans", sans-serif' font-weight="bold" font-style="normal" font-size="57.50" fill="#000">60</text><text transform="translate(1633.30 1543.20) scale(1.0000 1.0470)" font-family='"Liberation Sans", sans-serif' font-weight="bold" font-style="normal" font-size="57.50" fill="#000">70</text><text transform="translate(1853.05 1543.20) scale(1.0000 1.0470)" font-family='"Liberation Sans", sans-serif' font-weight="bold" font-style="normal" font-size="57.50" fill="#000">80</text><text transform="translate(2072.55 1543.20) scale(1.0000 1.0470)" font-family='"Liberation Sans", sans-serif' font-weight="bold" font-style="normal" font-size="57.50" fill="#000">90</text><text transform="translate(171.35 1504.20) scale(1.0000 1.0470)" font-family='"Liberation Sans", sans-serif' font-weight="bold" font-style="normal" font-size="57.50" fill="#000">0</text><text transform="translate(170.60 1109.90) scale(1.0000 1.0470)" font-family='"Liberation Sans", sans-serif' font-weight="bold" font-style="normal" font-size="57.50" fill="#000">5</text><text transform="translate(139.35 715.60) scale(1.0000 1.0470)" font-family='"Liberation Sans", sans-serif' font-weight="bold" font-style="normal" font-size="57.50" fill="#000">10</text><text transform="translate(138.60 321.30) scale(1.0000 1.0470)" font-family='"Liberation Sans", sans-serif' font-weight="bold" font-style="normal" font-size="57.50" fill="#000">15</text><text transform="translate(1751.85 1611.80) scale(0.9750 1.0470)" font-family='"Liberation Sans", sans-serif' font-weight="bold" font-style="normal" font-size="69.60" fill="#000">Z</text><text transform="translate(1794.22 1630.90) scale(0.9750 1.0470)" font-family='"Liberation Sans", sans-serif' font-weight="bold" font-style="normal" font-size="44.50" fill="#000">HI</text><text transform="translate(97.10 1086.05) rotate(-90) scale(0.9750 1.0470)" font-family='"Liberation Sans", sans-serif' font-weight="bold" font-style="normal" font-size="69.60" fill="#000">SP</text><text transform="translate(116.50 993.81) rotate(-90) scale(0.9750 1.0200)" font-family='"Liberation Sans", sans-serif' font-weight="bold" font-style="normal" font-size="45.50" fill="#000">e</text><text transform="translate(96.60 950.10) rotate(-90) scale(0.8900 0.9850)" font-family='"Liberation Sans", sans-serif' font-weight="bold" font-style="normal" font-size="69.60" fill="#000">(</text><text transform="translate(97.10 925.39) rotate(-90) scale(0.9750 1.0470)" font-family='"Liberation Sans", sans-serif' font-weight="bold" font-style="normal" font-size="69.60" fill="#000">MeV</text><text transform="translate(97.10 764.54) rotate(-90) scale(0.9750 1.0200)" font-family='"Liberation Sans", sans-serif' font-weight="bold" font-style="normal" font-size="69.60" fill="#000">cm</text><text transform="translate(59.10 662.65) rotate(-90) scale(0.9750 1.0470)" font-family='"Liberation Sans", sans-serif' font-weight="normal" font-style="normal" font-size="44.50" fill="#000" stroke="#000" stroke-width="1.4" stroke-linejoin="round">2</text><text transform="translate(96.10 637.40) rotate(-90) scale(1.0000 0.9700)" font-family='"Liberation Sans", sans-serif' font-weight="normal" font-style="normal" font-size="69.60" fill="#000" stroke="#000" stroke-width="0.8" stroke-linejoin="round">/</text><text transform="translate(97.10 599.19) rotate(-90) scale(0.9750 1.0200)" font-family='"Liberation Sans", sans-serif' font-weight="bold" font-style="normal" font-size="69.60" fill="#000">mg</text><text transform="translate(96.60 493.20) rotate(-90) scale(0.8900 0.9850)" font-family='"Liberation Sans", sans-serif' font-weight="bold" font-style="normal" font-size="69.60" fill="#000">)</text><text transform="translate(287.95 192.20) scale(0.9750 1.0470)" font-family='"Liberation Sans", sans-serif' font-weight="bold" font-style="normal" font-size="69.60" fill="#8000ff">Z</text><text transform="translate(329.12 211.40) scale(0.9750 1.0470)" font-family='"Liberation Sans", sans-serif' font-weight="bold" font-style="normal" font-size="44.50" fill="#8000ff">HI</text><text transform="translate(391.90 191.70) scale(0.8900 0.9850)" font-family='"Liberation Sans", sans-serif' font-weight="bold" font-style="normal" font-size="69.60" fill="#8000ff">(</text><text transform="translate(413.13 192.20) scale(0.9680 1.0470)" font-family='"Liberation Sans", sans-serif' font-weight="bold" font-style="normal" font-size="69.60" fill="#8000ff">0.8v</text><text transform="translate(545.70 211.40) scale(1.0000 1.0470)" font-family='"Liberation Sans", sans-serif' font-weight="normal" font-style="normal" font-size="44.50" fill="#8000ff" stroke="#8000ff" stroke-width="1.0" stroke-linejoin="round">0</text><text transform="translate(573.70 191.70) scale(0.8900 0.9850)" font-family='"Liberation Sans", sans-serif' font-weight="bold" font-style="normal" font-size="69.60" fill="#8000ff">)</text><text transform="translate(609.45 199.20) scale(1.0000 1.0000)" font-family='"Liberation Serif", serif' font-weight="normal" font-style="normal" font-size="69.60" fill="#8000ff" stroke="#8000ff" stroke-width="0.8" stroke-linejoin="round">=</text><text transform="translate(645.19 199.20) scale(1.0000 1.0000)" font-family='"Liberation Serif", serif' font-weight="normal" font-style="normal" font-size="69.60" fill="#8000ff" stroke="#8000ff" stroke-width="0.8" stroke-linejoin="round">&gt;</text><text transform="translate(701.31 192.20) scale(0.9750 1.0470)" font-family='"Liberation Sans", sans-serif' font-weight="bold" font-style="normal" font-size="69.60" fill="#8000ff">C</text><text transform="translate(392.37 329.00) scale(0.9750 1.0200)" font-family='"Liberation Sans", sans-serif' font-weight="bold" font-style="normal" font-size="48.60" fill="#000">Fastrup</text><text transform="translate(581.08 329.00) scale(0.9750 1.0200)" font-family='"Liberation Sans", sans-serif' font-weight="bold" font-style="italic" font-size="48.60" fill="#000">et</text><text transform="translate(639.00 329.00) scale(0.9750 1.0200)" font-family='"Liberation Sans", sans-serif' font-weight="bold" font-style="italic" font-size="48.60" fill="#000">al.</text><text transform="translate(702.86 329.00) scale(0.9500 1.0000)" font-family='"Liberation Sans", sans-serif' font-weight="bold" font-style="normal" font-size="48.60" fill="#000">(</text><text transform="translate(718.34 330.10) scale(1.0450 0.9470)" font-family='"Liberation Serif", serif' font-weight="normal" font-style="normal" font-size="48.60" fill="#000" stroke="#000" stroke-width="0.9" stroke-linejoin="round">θ</text><text transform="translate(743.33 342.50) scale(0.9650 1.0000)" font-family='"Liberation Sans", sans-serif' font-weight="bold" font-style="normal" font-size="31.30" fill="#000" stroke="#fff" stroke-width="0.4" stroke-linejoin="round">out</text><text transform="translate(790.55 332.60) scale(1.0000 1.0000)" font-family='"Liberation Serif", serif' font-weight="normal" font-style="normal" font-size="48.60" fill="#000" stroke="#000" stroke-width="0.7" stroke-linejoin="round">&lt;</text><text transform="translate(830.07 329.00) scale(0.9750 1.0470)" font-family='"Liberation Sans", sans-serif' font-weight="bold" font-style="normal" font-size="48.60" fill="#000">1/3</text><text transform="translate(895.65 301.70) scale(1.0000 1.0300)" font-family='"Liberation Sans", sans-serif' font-weight="normal" font-style="normal" font-size="31.30" fill="#000" stroke="#000" stroke-width="0.6" stroke-linejoin="round">o</text><text transform="translate(916.30 329.00) scale(0.9500 1.0000)" font-family='"Liberation Sans", sans-serif' font-weight="bold" font-style="normal" font-size="48.60" fill="#000">)</text><text transform="translate(391.77 413.10) scale(0.9750 1.0200)" font-family='"Liberation Sans", sans-serif' font-weight="bold" font-style="normal" font-size="48.60" fill="#000">Hvelplund</text><text transform="translate(636.15 413.10) scale(0.9750 1.0200)" font-family='"Liberation Sans", sans-serif' font-weight="bold" font-style="normal" font-size="48.60" fill="#000">&amp;</text><text transform="translate(684.27 413.10) scale(0.9750 1.0200)" font-family='"Liberation Sans", sans-serif' font-weight="bold" font-style="normal" font-size="48.60" fill="#000">Fastrup</text><text transform="translate(870.76 413.10) scale(0.9500 1.0000)" font-family='"Liberation Sans", sans-serif' font-weight="bold" font-style="normal" font-size="48.60" fill="#000">(</text><text transform="translate(886.34 414.20) scale(1.0450 0.9470)" font-family='"Liberation Serif", serif' font-weight="normal" font-style="normal" font-size="48.60" fill="#000" stroke="#000" stroke-width="0.9" stroke-linejoin="round">θ</text><text transform="translate(910.93 426.60) scale(0.9650 1.0000)" font-family='"Liberation Sans", sans-serif' font-weight="bold" font-style="normal" font-size="31.30" fill="#000" stroke="#fff" stroke-width="0.4" stroke-linejoin="round">out</text><text transform="translate(958.35 416.70) scale(1.0000 1.0000)" font-family='"Liberation Serif", serif' font-weight="normal" font-style="normal" font-size="48.60" fill="#000" stroke="#000" stroke-width="0.7" stroke-linejoin="round">&lt;</text><text transform="translate(997.87 413.10) scale(0.9750 1.0470)" font-family='"Liberation Sans", sans-serif' font-weight="bold" font-style="normal" font-size="48.60" fill="#000">1/3</text><text transform="translate(1063.55 385.80) scale(1.0000 1.0300)" font-family='"Liberation Sans", sans-serif' font-weight="normal" font-style="normal" font-size="31.30" fill="#000" stroke="#000" stroke-width="0.6" stroke-linejoin="round">o</text><text transform="translate(1084.70 413.10) scale(0.9500 1.0000)" font-family='"Liberation Sans", sans-serif' font-weight="bold" font-style="normal" font-size="48.60" fill="#000">)</text><text transform="translate(392.37 497.90) scale(0.9750 1.0200)" font-family='"Liberation Sans", sans-serif' font-weight="bold" font-style="normal" font-size="48.60" fill="#000">Lennard</text><text transform="translate(595.58 497.90) scale(0.9750 1.0200)" font-family='"Liberation Sans", sans-serif' font-weight="bold" font-style="italic" font-size="48.60" fill="#000">et</text><text transform="translate(652.30 497.90) scale(0.9750 1.0200)" font-family='"Liberation Sans", sans-serif' font-weight="bold" font-style="italic" font-size="48.60" fill="#000">al.</text><text transform="translate(716.76 497.90) scale(0.9500 1.0000)" font-family='"Liberation Sans", sans-serif' font-weight="bold" font-style="normal" font-size="48.60" fill="#000">(</text><text transform="translate(731.64 499.00) scale(1.0450 0.9470)" font-family='"Liberation Serif", serif' font-weight="normal" font-style="normal" font-size="48.60" fill="#000" stroke="#000" stroke-width="0.9" stroke-linejoin="round">θ</text><text transform="translate(756.13 511.40) scale(0.9650 1.0000)" font-family='"Liberation Sans", sans-serif' font-weight="bold" font-style="normal" font-size="31.30" fill="#000" stroke="#fff" stroke-width="0.4" stroke-linejoin="round">out</text><text transform="translate(803.45 501.50) scale(1.0000 1.0000)" font-family='"Liberation Serif", serif' font-weight="normal" font-style="normal" font-size="48.60" fill="#000" stroke="#000" stroke-width="0.7" stroke-linejoin="round">&lt;</text><text transform="translate(842.49 497.90) scale(0.9750 1.0470)" font-family='"Liberation Sans", sans-serif' font-weight="bold" font-style="normal" font-size="48.60" fill="#000">0.17</text><text transform="translate(935.55 470.60) scale(1.0000 1.0300)" font-family='"Liberation Sans", sans-serif' font-weight="normal" font-style="normal" font-size="31.30" fill="#000" stroke="#000" stroke-width="0.6" stroke-linejoin="round">o</text><text transform="translate(953.82 497.90) scale(0.9750 1.0200)" font-family='"Liberation Sans", sans-serif' font-weight="bold" font-style="normal" font-size="48.60" fill="#000">,</text><text transform="translate(982.74 497.90) scale(0.9750 1.0200)" font-family='"Liberation Sans", sans-serif' font-weight="bold" font-style="normal" font-size="48.60" fill="#000">w</text><text transform="translate(1020.60 511.40) scale(1.0000 1.0300)" font-family='"Liberation Sans", sans-serif' font-weight="normal" font-style="normal" font-size="31.30" fill="#000" stroke="#000" stroke-width="0.6" stroke-linejoin="round">C</text><text transform="translate(1042.25 500.90) scale(1.0000 0.8000)" font-family='"Liberation Serif", serif' font-weight="normal" font-style="normal" font-size="48.60" fill="#000">~</text><text transform="translate(1067.43 497.90) scale(0.9750 1.0470)" font-family='"Liberation Sans", sans-serif' font-weight="bold" font-style="normal" font-size="48.60" fill="#000">5</text><text transform="translate(1103.68 497.90) scale(1.1500 0.9500)" font-family='"Liberation Serif", serif' font-weight="normal" font-style="normal" font-size="48.60" fill="#000">μ</text><text transform="translate(1132.59 497.90) scale(0.9750 1.0200)" font-family='"Liberation Sans", sans-serif' font-weight="bold" font-style="normal" font-size="48.60" fill="#000">g/cm</text><text transform="translate(1244.10 470.60) scale(1.0000 1.0300)" font-family='"Liberation Sans", sans-serif' font-weight="normal" font-style="normal" font-size="31.30" fill="#000" stroke="#000" stroke-width="0.6" stroke-linejoin="round">2</text><text transform="translate(1263.20 497.90) scale(0.9500 1.0000)" font-family='"Liberation Sans", sans-serif' font-weight="bold" font-style="normal" font-size="48.60" fill="#000">)</text><text transform="translate(392.37 583.00) scale(0.9750 1.0200)" font-family='"Liberation Sans", sans-serif' font-weight="bold" font-style="normal" font-size="48.60" fill="#000">Lennard</text><text transform="translate(595.58 583.00) scale(0.9750 1.0200)" font-family='"Liberation Sans", sans-serif' font-weight="bold" font-style="italic" font-size="48.60" fill="#000">et</text><text transform="translate(652.30 583.00) scale(0.9750 1.0200)" font-family='"Liberation Sans", sans-serif' font-weight="bold" font-style="italic" font-size="48.60" fill="#000">al.</text><text transform="translate(716.76 583.00) scale(0.9500 1.0000)" font-family='"Liberation Sans", sans-serif' font-weight="bold" font-style="normal" font-size="48.60" fill="#000">(</text><text transform="translate(731.64 584.10) scale(1.0450 0.9470)" font-family='"Liberation Serif", serif' font-weight="normal" font-style="normal" font-size="48.60" fill="#000" stroke="#000" stroke-width="0.9" stroke-linejoin="round">θ</text><text transform="translate(756.13 596.50) scale(0.9650 1.0000)" font-family='"Liberation Sans", sans-serif' font-weight="bold" font-style="normal" font-size="31.30" fill="#000" stroke="#fff" stroke-width="0.4" stroke-linejoin="round">out</text><text transform="translate(803.45 586.60) scale(1.0000 1.0000)" font-family='"Liberation Serif", serif' font-weight="normal" font-style="normal" font-size="48.60" fill="#000" stroke="#000" stroke-width="0.7" stroke-linejoin="round">&lt;</text><text transform="translate(842.49 583.00) scale(0.9750 1.0470)" font-family='"Liberation Sans", sans-serif' font-weight="bold" font-style="normal" font-size="48.60" fill="#000">0.17</text><text transform="translate(935.55 555.70) scale(1.0000 1.0300)" font-family='"Liberation Sans", sans-serif' font-weight="normal" font-style="normal" font-size="31.30" fill="#000" stroke="#000" stroke-width="0.6" stroke-linejoin="round">o</text><text transform="translate(953.82 583.00) scale(0.9750 1.0200)" font-family='"Liberation Sans", sans-serif' font-weight="bold" font-style="normal" font-size="48.60" fill="#000">,</text><text transform="translate(982.74 583.00) scale(0.9750 1.0200)" font-family='"Liberation Sans", sans-serif' font-weight="bold" font-style="normal" font-size="48.60" fill="#000">w</text><text transform="translate(1020.60 596.50) scale(1.0000 1.0300)" font-family='"Liberation Sans", sans-serif' font-weight="normal" font-style="normal" font-size="31.30" fill="#000" stroke="#000" stroke-width="0.6" stroke-linejoin="round">C</text><text transform="translate(1042.25 586.00) scale(1.0000 0.8000)" font-family='"Liberation Serif", serif' font-weight="normal" font-style="normal" font-size="48.60" fill="#000">~</text><text transform="translate(1072.32 583.00) scale(0.9750 1.0470)" font-family='"Liberation Sans", sans-serif' font-weight="bold" font-style="normal" font-size="48.60" fill="#000">30</text><text transform="translate(1129.48 583.00) scale(1.1500 0.9500)" font-family='"Liberation Serif", serif' font-weight="normal" font-style="normal" font-size="48.60" fill="#000">μ</text><text transform="translate(1158.39 583.00) scale(0.9750 1.0200)" font-family='"Liberation Sans", sans-serif' font-weight="bold" font-style="normal" font-size="48.60" fill="#000">g/cm</text><text transform="translate(1269.90 555.70) scale(1.0000 1.0300)" font-family='"Liberation Sans", sans-serif' font-weight="normal" font-style="normal" font-size="31.30" fill="#000" stroke="#000" stroke-width="0.6" stroke-linejoin="round">2</text><text transform="translate(1289.00 583.00) scale(0.9500 1.0000)" font-family='"Liberation Sans", sans-serif' font-weight="bold" font-style="normal" font-size="48.60" fill="#000">)</text><text transform="translate(392.18 654.90) scale(0.9750 1.0470)" font-family='"Liberation Sans", sans-serif' font-weight="bold" font-style="normal" font-size="48.60" fill="#000">SRIM</text><text transform="translate(392.18 716.10) scale(0.9750 1.0470)" font-family='"Liberation Sans", sans-serif' font-weight="bold" font-style="normal" font-size="48.60" fill="#000">SP</text><text transform="translate(455.97 729.60) scale(0.9650 1.0000)" font-family='"Liberation Sans", sans-serif' font-weight="bold" font-style="normal" font-size="31.30" fill="#000" stroke="#fff" stroke-width="0.4" stroke-linejoin="round">n</text><text transform="translate(473.74 716.10) scale(1.0000 1.0000)" font-family='"Liberation Sans", sans-serif' font-weight="bold" font-style="normal" font-size="48.60" fill="#000">,</text><text transform="translate(502.08 716.10) scale(0.9750 1.0470)" font-family='"Liberation Sans", sans-serif' font-weight="bold" font-style="normal" font-size="48.60" fill="#000">SRIM</text></g>
</svg></body></html>
